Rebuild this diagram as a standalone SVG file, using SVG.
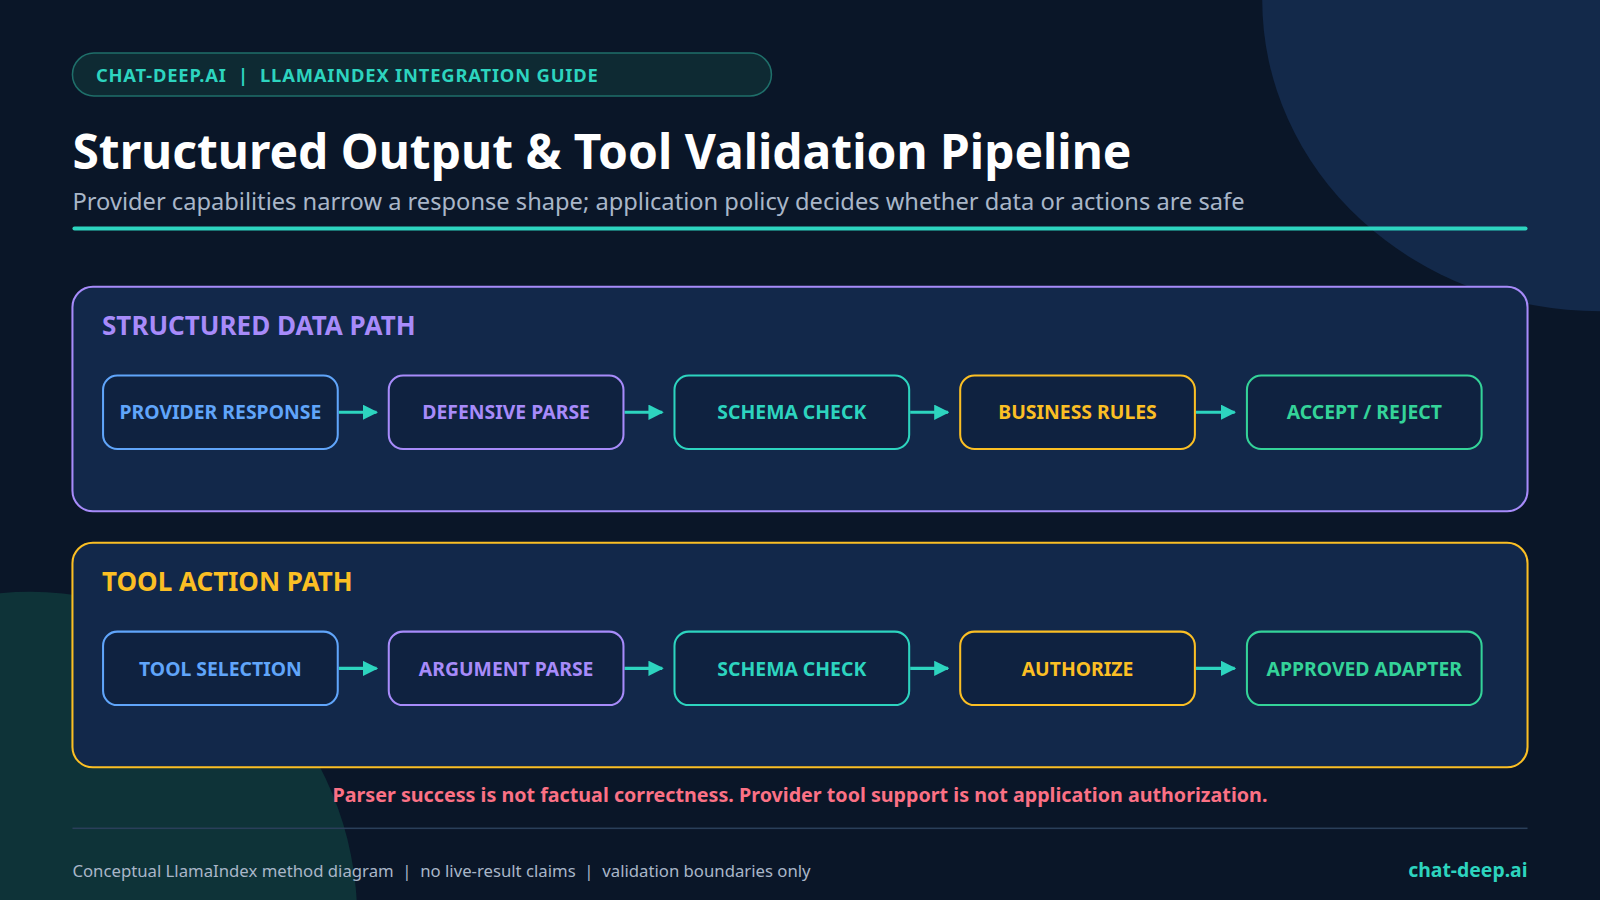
<svg xmlns="http://www.w3.org/2000/svg" width="1600" height="900" viewBox="0 0 1600 900">
<style>
text{font-family:"Noto Sans","Open Sans","DejaVu Sans",sans-serif}
.node rect{fill:#0f2240;stroke-width:2}
.node text{font-size:19px;font-weight:700;text-anchor:middle}
.panel{fill:#12284a;stroke-width:2}
.ptitle{font-size:25.5px;font-weight:700}
.conn line{stroke:#2dd4bf;stroke-width:3}
</style>
<defs><marker id="ah" viewBox="0 0 10 10" refX="9" refY="5" markerWidth="5" markerHeight="5" orient="auto"><path d="M0,0L10,5L0,10z" fill="#2dd4bf"/></marker></defs>
<rect width="1600" height="900" fill="#0a1628"/>
<g transform="scale(1.0204)">
<ellipse cx="1568" cy="0" rx="331" ry="305" fill="#13294a"/>
<circle cx="30" cy="900" r="320" fill="#0e3338"/>
<rect x="71" y="52" width="685" height="42" rx="21" fill="#0e2a33" stroke="#1f6f6a" stroke-width="1.5"/>
<text x="94" y="80" font-size="18" font-weight="700" fill="#2dd4bf" letter-spacing="0.8" xml:space="preserve">CHAT-DEEP.AI  |  LLAMAINDEX INTEGRATION GUIDE</text>
<text x="71" y="166" font-size="47" font-weight="700" fill="#ffffff">Structured Output &amp; Tool Validation Pipeline</text>
<text x="71" y="206" font-size="23.2" fill="#a9b6c8">Provider capabilities narrow a response shape; application policy decides whether data or actions are safe</text>
<rect x="71" y="222" width="1426" height="4" rx="2" fill="#2dd4bf"/>
<rect class="panel" x="71" y="281" width="1426" height="220" rx="20" stroke="#a78bfa"/>
<text class="ptitle" x="100" y="328" fill="#a78bfa">STRUCTURED DATA PATH</text>
<rect class="panel" x="71" y="532" width="1426" height="220" rx="20" stroke="#fbbf24"/>
<text class="ptitle" x="100" y="579" fill="#fbbf24">TOOL ACTION PATH</text>
<g class="conn">
<line x1="332" y1="404" x2="369" y2="404" marker-end="url(#ah)"/>
<line x1="612" y1="404" x2="649" y2="404" marker-end="url(#ah)"/>
<line x1="892" y1="404" x2="929" y2="404" marker-end="url(#ah)"/>
<line x1="1172" y1="404" x2="1210" y2="404" marker-end="url(#ah)"/>
<line x1="332" y1="655" x2="369" y2="655" marker-end="url(#ah)"/>
<line x1="612" y1="655" x2="649" y2="655" marker-end="url(#ah)"/>
<line x1="892" y1="655" x2="929" y2="655" marker-end="url(#ah)"/>
<line x1="1172" y1="655" x2="1210" y2="655" marker-end="url(#ah)"/>
</g>
<g id="n1" class="node"><rect x="101" y="368" width="230" height="72" rx="14" stroke="#60a5fa"/><text x="216" y="411" fill="#60a5fa">PROVIDER RESPONSE</text></g>
<g id="n2" class="node"><rect x="381" y="368" width="230" height="72" rx="14" stroke="#a78bfa"/><text x="496" y="411" fill="#a78bfa">DEFENSIVE PARSE</text></g>
<g id="n3" class="node"><rect x="661" y="368" width="230" height="72" rx="14" stroke="#2dd4bf"/><text x="776" y="411" fill="#2dd4bf">SCHEMA CHECK</text></g>
<g id="n4" class="node"><rect x="941" y="368" width="230" height="72" rx="14" stroke="#fbbf24"/><text x="1056" y="411" fill="#fbbf24">BUSINESS RULES</text></g>
<g id="n5" class="node"><rect x="1222" y="368" width="230" height="72" rx="14" stroke="#34d399"/><text x="1337" y="411" fill="#34d399">ACCEPT / REJECT</text></g>
<g id="m1" class="node"><rect x="101" y="619" width="230" height="72" rx="14" stroke="#60a5fa"/><text x="216" y="662" fill="#60a5fa">TOOL SELECTION</text></g>
<g id="m2" class="node"><rect x="381" y="619" width="230" height="72" rx="14" stroke="#a78bfa"/><text x="496" y="662" fill="#a78bfa">ARGUMENT PARSE</text></g>
<g id="m3" class="node"><rect x="661" y="619" width="230" height="72" rx="14" stroke="#2dd4bf"/><text x="776" y="662" fill="#2dd4bf">SCHEMA CHECK</text></g>
<g id="m4" class="node"><rect x="941" y="619" width="230" height="72" rx="14" stroke="#fbbf24"/><text x="1056" y="662" fill="#fbbf24">AUTHORIZE</text></g>
<g id="m5" class="node"><rect x="1222" y="619" width="230" height="72" rx="14" stroke="#34d399"/><text x="1337" y="662" fill="#34d399">APPROVED ADAPTER</text></g>
<text x="784" y="786" font-size="19.3" font-weight="700" fill="#fb7185" text-anchor="middle">Parser success is not factual correctness. Provider tool support is not application authorization.</text>
<rect x="71" y="811" width="1426" height="1.5" fill="#2a3f5a"/>
<text x="71" y="859" font-size="16.4" fill="#a9b6c8" xml:space="preserve">Conceptual LlamaIndex method diagram  |  no live-result claims  |  validation boundaries only</text>
<text x="1497" y="859" font-size="19" font-weight="700" fill="#2dd4bf" text-anchor="end">chat-deep.ai</text>
</g>
</svg>
